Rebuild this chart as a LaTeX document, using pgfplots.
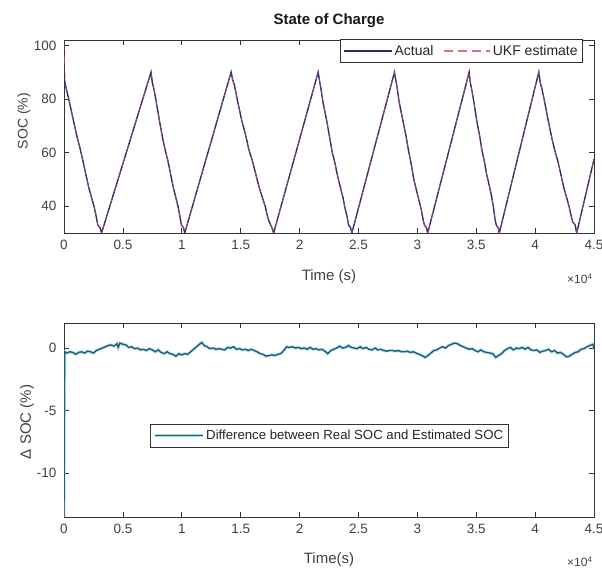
\documentclass[border=0pt]{standalone}
\usepackage{pgfplots}
\pgfplotsset{compat=1.18}
\usepackage{pgfplotstable}
\usepackage{fontspec}
\setmainfont{Liberation Sans}

\definecolor{actualc}{HTML}{2B2B6E}
\definecolor{ukfc}{HTML}{E0565B}
\definecolor{diffc}{HTML}{1E5F78}
\definecolor{haloc}{HTML}{A6DDEC}
\definecolor{axc}{HTML}{333333}
\definecolor{tickc}{HTML}{404040}

\pgfplotstableread{
t v
0 88
130 85
400 80
800 72
1100 66
1340 62
1600 57
1850 52
2100 47
2350 43
2550 40
2740 36
2870 33
3060 32
3190 30
7390 90
7500 86
7620 84
7790 80
8100 72
8390 65
8590 61
8820 57
9050 52
9280 47
9510 43
9680 40
9850 36
9970 33
10140 32
10250 30
14190 90
14330 87
14480 85
14700 80
15090 72
15450 66
15700 61
15990 57
16280 52
16570 47
16860 43
17080 40
17290 36
17440 34
17650 32
17800 30
21580 90
21690 87
21810 84
21980 79
22300 72
22580 65
22780 60
23010 56
23240 51
23470 47
23700 43
23870 39
24040 36
24160 33
24330 32
24440 30
28060 90
28170 87
28290 84
28450 79
28770 72
29050 66
29240 61
29470 56
29700 50
29920 46
30150 42
30320 39
30490 35
30600 33
30770 32
30880 30
34400 90
34500 86
34600 84
34760 80
35040 72
35300 66
35480 61
35680 57
35880 52
36090 48
36290 44
36450 40
36600 35
36700 33
36860 32
36960 30
40310 90
40440 86
40570 84
40760 80
41110 72
41440 65
41660 61
41920 57
42180 52
42430 47
42690 43
42880 40
43080 36
43210 34
43400 33
43530 30
45000 57.5
}\actual

\pgfplotstableread{
t v
0 101.5
60 92
150 85
400 80
800 72
1100 66
1340 62
1600 57
1850 52
2100 47
2350 43
2550 40
2740 36
2870 33
3060 32
3190 30
7390 90
7500 86
7620 84
7790 80
8100 72
8390 65
8590 61
8820 57
9050 52
9280 47
9510 43
9680 40
9850 36
9970 33
10140 32
10250 30
14190 90
14330 87
14480 85
14700 80
15090 72
15450 66
15700 61
15990 57
16280 52
16570 47
16860 43
17080 40
17290 36
17440 34
17650 32
17800 30
21580 90
21690 87
21810 84
21980 79
22300 72
22580 65
22780 60
23010 56
23240 51
23470 47
23700 43
23870 39
24040 36
24160 33
24330 32
24440 30
28060 90
28170 87
28290 84
28450 79
28770 72
29050 66
29240 61
29470 56
29700 50
29920 46
30150 42
30320 39
30490 35
30600 33
30770 32
30880 30
34400 90
34500 86
34600 84
34760 80
35040 72
35300 66
35480 61
35680 57
35880 52
36090 48
36290 44
36450 40
36600 35
36700 33
36860 32
36960 30
40310 90
40440 86
40570 84
40760 80
41110 72
41440 65
41660 61
41920 57
42180 52
42430 47
42690 43
42880 40
43080 36
43210 34
43400 33
43530 30
45000 57.5
}\ukf

\pgfplotstableread{
t d
0 -13.5
30 -4
70 -0.3
250 -0.4
500 -0.3
750 -0.35
1000 -0.5
1250 -0.35
1500 -0.3
1750 -0.4
2000 -0.25
2250 -0.3
2500 -0.4
2750 -0.2
3000 -0.1
3250 0.0
3500 0.1
3750 0.2
4000 0.25
4250 0.15
4500 0.35
4600 0.05
4750 0.4
5000 0.3
5250 0.25
5500 0.05
5750 0.1
6000 -0.05
6250 0.0
6500 -0.15
6750 -0.1
7000 -0.2
7250 -0.05
7500 -0.15
7750 -0.3
8000 -0.15
8250 -0.35
8500 -0.45
8750 -0.3
9000 -0.45
9250 -0.5
9500 -0.65
9750 -0.45
10000 -0.55
10250 -0.45
10500 -0.5
10750 -0.3
11000 -0.1
11250 0.1
11500 0.3
11700 0.45
11900 0.2
12150 0.1
12400 -0.05
12650 0.0
12900 -0.1
13150 -0.05
13400 -0.1
13650 -0.15
13900 0.05
14150 0.0
14400 0.1
14650 -0.1
14900 -0.05
15150 -0.15
15400 -0.1
15650 -0.2
15900 -0.1
16150 -0.2
16400 -0.3
16650 -0.45
16900 -0.5
17150 -0.65
17400 -0.6
17650 -0.55
17900 -0.6
18150 -0.5
18400 -0.45
18650 -0.2
18900 0.1
19150 0.05
19400 0.1
19650 0.0
19900 0.05
20150 -0.05
20400 0.0
20650 -0.1
20900 0.05
21150 -0.1
21400 -0.05
21650 -0.15
21900 -0.1
22150 -0.25
22400 -0.45
22650 -0.2
22900 -0.1
23150 0.0
23400 0.15
23650 0.0
23900 0.05
24150 0.2
24400 0.05
24650 0.0
24900 -0.05
25150 0.1
25400 -0.05
25650 0.05
25900 -0.1
26150 -0.15
26400 0.0
26650 -0.15
26900 -0.1
27150 -0.2
27400 -0.25
27650 -0.2
27900 -0.2
28150 -0.25
28400 -0.2
28650 -0.3
28900 -0.3
29150 -0.25
29400 -0.35
29650 -0.3
29900 -0.4
30150 -0.5
30400 -0.6
30650 -0.75
30900 -0.6
31150 -0.4
31400 -0.2
31650 -0.15
31900 0.0
32150 0.1
32400 0.0
32650 0.2
32900 0.3
33150 0.4
33400 0.35
33650 0.2
33900 0.1
34150 0.0
34400 -0.1
34650 -0.05
34900 -0.2
35150 -0.3
35400 -0.15
35650 -0.3
35900 -0.35
36150 -0.4
36400 -0.45
36650 -0.75
36900 -0.6
37150 -0.45
37400 -0.2
37650 -0.05
37900 0.05
38150 -0.15
38400 0.0
38650 -0.05
38900 0.05
39150 -0.1
39400 0.05
39650 -0.15
39900 -0.2
40150 -0.15
40400 -0.35
40650 -0.25
40900 -0.2
41150 -0.1
41400 -0.3
41650 -0.2
41900 -0.4
42150 -0.35
42400 -0.5
42650 -0.7
42900 -0.65
43150 -0.5
43400 -0.35
43650 -0.3
43900 -0.1
44150 -0.05
44400 0.1
44650 0.2
44900 0.3
45000 0.0
}\diff

\pgfplotsset{
  matlab/.style={
    scale only axis, width=530pt,
    xmin=0, xmax=45000,
    xtick={0,5000,10000,15000,20000,25000,30000,35000,40000,45000},
    xticklabels={0,0.5,1,1.5,2,2.5,3,3.5,4,4.5},
    scaled x ticks=false, scaled y ticks=false,
    tick align=inside, major tick length=5pt,
    axis line style={axc, line width=0.7pt},
    tick style={axc, line width=0.6pt},
    ticklabel style={font=\fontsize{13.5}{15}\selectfont, text=tickc},
    /pgf/number format/assume math mode=true,
    x tick label style={yshift=-4pt},
    y tick label style={xshift=-4pt},
    clip mode=individual,
  }
}

\begin{document}
\begin{tikzpicture}
\path[use as bounding box] (0pt,0pt) rectangle (602pt,-570pt);

\begin{axis}[matlab,
  at={(64pt,-233pt)}, anchor=south west, height=193pt,
  ymin=30, ymax=102, ytick={40,60,80,100},
  legend columns=2,
  legend style={at={(rel axis cs:0.979,1.003)}, anchor=north east,
    font=\fontsize{14}{16}\selectfont, text=black!85,
    fill=white, inner xsep=3pt, inner ysep=3.5pt,
    /tikz/every even column/.append style={column sep=8pt}},
  every axis legend/.append style={draw=axc},
]
\addplot[actualc, line width=1.4pt,
  legend image code/.code={\draw[draw=actualc, line width=1.8pt] (0pt,0pt) -- (48pt,0pt);}]
  table[x=t, y=v] {\actual};
\addlegendentry{Actual}
\addplot[ukfc, line width=0.6pt, opacity=0.75, dash pattern=on 9pt off 5pt,
  legend image code/.code={\draw[draw=ukfc!85!black, line width=1.3pt, dash pattern=on 9pt off 5pt] (0pt,0pt) -- (46pt,0pt);}]
  table[x=t, y=v] {\ukf};
\addlegendentry{UKF estimate}
\end{axis}

\begin{axis}[matlab,
  at={(64pt,-517pt)}, anchor=south west, height=194pt,
  ymin=-13.5, ymax=2, ytick={-10,-5,0},
  legend style={at={(rel axis cs:0.5,0.42)}, anchor=center,
    font=\fontsize{13.2}{15}\selectfont, text=black!85,
    fill=white, inner xsep=3pt, inner ysep=4pt},
  every axis legend/.append style={draw=axc},
]
\addplot[haloc, line width=3.2pt, opacity=0.7, forget plot] table[x=t, y=d] {\diff};
\addplot[diffc, line width=1.4pt, forget plot] table[x=t, y=d] {\diff};
\addlegendimage{legend image code/.code={\draw[draw=haloc, line width=3.4pt] (0pt,0pt) -- (48pt,0pt); \draw[draw=diffc, line width=1.8pt] (0pt,0pt) -- (48pt,0pt);}}
\addlegendentry{Difference between Real SOC and Estimated SOC}
\end{axis}

% titles and labels
\node[font=\bfseries\fontsize{15}{17}\selectfont, text=black!90] at (329pt,-21pt) {State of Charge};
\node[font=\fontsize{15}{17}\selectfont, text=tickc] at (329pt,-277pt) {Time (s)};
\node[font=\fontsize{12}{14}\selectfont, text=tickc, anchor=east] at (596pt,-279pt) {×10\textsuperscript{4}};
\node[font=\fontsize{14}{16}\selectfont, text=tickc, rotate=90] at (24pt,-121pt) {SOC (\%)};

\node[font=\fontsize{15}{17}\selectfont, text=tickc] at (329pt,-560pt) {Time(s)};
\node[font=\fontsize{12}{14}\selectfont, text=tickc, anchor=east] at (596pt,-562pt) {×10\textsuperscript{4}};
\node[font=\fontsize{15}{17}\selectfont, text=tickc, rotate=90] at (27pt,-422pt) {Δ SOC (\%)};
\end{tikzpicture}
\end{document}
